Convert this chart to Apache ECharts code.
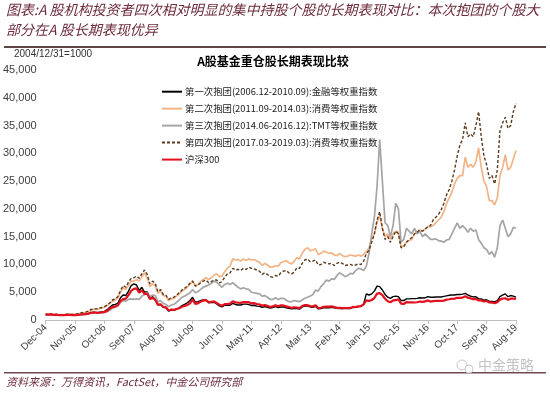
<!DOCTYPE html>
<html>
<head>
<meta charset="utf-8">
<script src="https://cdn.jsdelivr.net/npm/echarts@6/dist/echarts.min.js"></script>
<style>
html,body{margin:0;padding:0;background:#fff;}
#c{width:550px;height:395px;}
</style>
</head>
<body>
<div id="c"></div>
<script>
// ---- Data (monthly, Dec-04 .. Aug-19), index 2004/12/31 = 1000 ----
const monNames = ['Jan','Feb','Mar','Apr','May','Jun','Jul','Aug','Sep','Oct','Nov','Dec'];
const categories = [];
for (let i = 0; i < 177; i++) {
  const t = 2004 * 12 + 11 + i;
  const y = Math.floor(t / 12), mo = t % 12;
  categories.push(monNames[mo] + '-' + String(y % 100).padStart(2, '0'));
}

const seriesNames = [
  '第一次抱团(2006.12-2010.09):金融等权重指数',
  '第二次抱团(2011.09-2014.03):消费等权重指数',
  '第三次抱团(2014.06-2016.12):TMT等权重指数',
  '第四次抱团(2017.03-2019.03):消费等权重指数',
  '沪深300'
];

const finance1 = [1000,
  970,990,910,950,860,880,880,930,920,880,890,930,
  1000,1040,1060,1180,1380,1420,1370,1380,1480,1560,1850,2300,
  2700,2800,3000,4000,4500,4400,5200,6200,6500,6300,5300,5900,
  5000,5100,3900,4200,3700,2700,2800,2300,2200,1600,1800,1750,
  2000,2200,2600,2800,3100,3500,4100,3200,3300,3500,3600,3550,
  3100,3150,3200,2900,2550,2350,2650,2650,2650,3000,2800,2700,
  2700,2850,2850,2800,2600,2650,2500,2450,2300,2400,2300,2150,
  2250,2400,2250,2350,2350,2200,2100,2000,2050,2050,1950,2350,
  2550,2500,2350,2300,2450,2000,2050,2200,2250,2200,2300,2200,
  2100,2050,2050,2050,2050,2050,2300,2300,2400,2450,2900,4700,
  4500,4700,5200,6100,6000,5400,4600,4100,3900,4200,4300,4200,
  3500,3500,3800,3800,3850,3850,3900,4000,3950,4000,4200,4100,
  4100,4150,4150,4150,4250,4350,4450,4500,4500,4600,4600,4650,
  4800,4500,4300,4150,4200,3800,3800,3550,3650,3350,3350,3250,
  3500,4200,4500,4700,4200,4400,4300,4100];

const consumer2 = [1000,
  1000,1030,950,1000,920,950,960,1020,1030,1000,1030,1100,
  1200,1300,1350,1500,1800,1900,1900,2000,2150,2300,2600,3000,
  3400,3600,4000,5000,5800,5500,6300,7000,7000,7300,7000,7800,
  8500,7600,6000,6500,6200,4800,5200,4400,4300,3500,3800,3900,
  4300,4700,5200,5500,5900,6400,7000,6200,6400,6900,7300,7600,
  7300,7600,8100,8300,7800,7900,8700,9300,9700,11000,10800,10900,
  10600,11000,10700,11000,10800,10900,10600,10400,9800,10200,9900,9500,
  9500,9800,9700,10300,10500,10700,10300,10100,10600,11200,11000,12000,
  12700,13000,12500,12600,12800,11800,12000,12400,12200,12000,12100,11700,
  11600,12000,11600,11400,11500,11700,11600,11500,11700,11500,11800,12300,
  13000,14500,15500,17500,18800,16500,15000,15500,14500,15500,16000,15800,
  13200,13300,14000,14300,14500,15500,15800,16200,16000,16400,16800,16800,
  17000,17500,18000,18500,19500,21000,22000,23000,24500,25500,26000,26000,
  29300,27500,28000,27500,28500,31000,27500,25000,24000,21500,21500,20700,
  22000,26000,27500,29700,27000,27500,29000,30500];

const tmt3 = [1000,
  980,1000,920,950,860,870,860,900,900,860,880,910,
  980,1010,1030,1130,1280,1310,1270,1280,1330,1360,1500,1750,
  2100,2300,2600,3200,3500,3400,3700,3800,3700,3800,3700,4300,
  4600,5000,4200,4500,4400,3300,3500,3000,2800,2400,2700,2800,
  3200,3600,4100,4300,4600,4900,5500,4900,5100,5500,5900,6100,
  6300,6600,7000,6800,6300,5900,6400,6600,6400,6700,6300,5900,
  5600,5800,5600,5500,5000,4900,4800,4700,4300,4400,4100,3700,
  3700,4000,3700,3900,3900,3600,3300,3300,3500,3400,3300,3600,
  3900,4100,4300,4600,5400,5200,6000,6500,7200,7000,7400,7300,
  8000,8500,8200,7800,8000,8400,8300,8900,9300,9200,8900,9700,
  12000,15500,18500,24000,32500,25000,17500,17000,15000,17000,21000,20000,
  14000,14500,16500,16000,15500,16500,15500,16000,15000,15500,15000,14500,
  14500,14600,14300,14200,14000,14400,14500,15500,16500,17500,16500,17000,
  16500,15800,16500,16000,16200,14500,13800,13000,12700,11800,12300,11300,
  13000,17000,18000,16500,15000,15500,16700,16500];

const consumer4 = [1000,
  1000,1030,960,1010,930,960,970,1030,1050,1020,1050,1120,
  1250,1350,1420,1600,1900,2000,2000,2100,2250,2400,2700,3100,
  3600,3800,4200,5300,6200,5900,6800,7500,7600,7900,7500,8300,
  9000,8200,6500,7000,6600,5100,5500,4600,4500,3700,4000,4100,
  4500,4900,5400,5700,6100,6600,7000,6100,6300,6700,7000,7200,
  6700,6900,7200,7200,6700,6900,7700,8300,8500,9300,9000,9100,
  8900,9300,9100,9500,9300,9200,9000,8800,8200,8500,8200,7800,
  7700,8000,7900,8500,8800,8900,8500,8300,8600,9400,9300,10200,
  10800,11000,10500,10600,10800,9900,10000,10400,10200,10100,10200,9800,
  10200,10400,10200,9800,9900,10000,9800,9900,10100,10000,10600,12000,
  12500,14000,15500,18000,19500,16500,14500,15000,14000,15000,16000,15500,
  13000,13200,14000,14500,14800,15500,15800,16200,16000,16300,16800,17000,
  18000,18500,19000,19800,21000,22500,23500,25000,27000,29500,31500,32500,
  35500,33000,33500,33000,35000,37500,33000,29500,28000,25500,26000,24500,
  27000,34000,35500,36500,34500,35000,37500,39000];

const hs300 = [1000,
  980,1010,920,960,860,880,870,920,910,870,880,923,
  990,1020,1040,1140,1300,1340,1300,1300,1380,1420,1660,2041,
  2330,2420,2600,3450,3770,3850,4470,5250,5600,5690,4900,5338,
  4700,4750,3790,3980,3600,2760,2830,2390,2290,1720,1880,1817,
  1970,2120,2380,2510,2700,3000,3660,2890,3000,3300,3500,3575,
  3200,3280,3350,3070,2760,2560,2870,2900,2940,3380,3180,3128,
  3080,3240,3220,3210,3010,3040,2880,2800,2590,2700,2560,2345,
  2460,2630,2460,2630,2620,2460,2330,2200,2290,2250,2140,2522,
  2700,2670,2500,2450,2640,2150,2200,2370,2410,2400,2450,2330,
  2200,2180,2150,2160,2160,2165,2350,2330,2450,2510,2810,3533,
  3430,3600,3950,4750,4850,4470,3820,3370,3200,3530,3560,3730,
  2950,2880,3220,3160,3170,3150,3200,3330,3250,3340,3530,3310,
  3390,3450,3460,3440,3490,3670,3740,3820,3840,4000,4000,4030,
  4280,4020,3900,3760,3800,3510,3520,3330,3440,3150,3140,3010,
  3200,3670,3870,3910,3630,3830,3840,3800];

const yTicks = { min: 0, max: 45000, interval: 5000 };

// ---- Chart ----
const chart = echarts.init(document.getElementById('c'), null, { renderer: 'canvas' });
const maroon = '#6e2b3b';
const cjk = '"Noto Sans CJK SC", "Liberation Sans", sans-serif';
const latin = '"Liberation Sans", Arial, sans-serif';

const styles = [
  { color: '#000000', width: 1.4, type: 'solid' },
  { color: '#F2B486', width: 1.7, type: 'solid' },
  { color: '#A5A5A5', width: 1.7, type: 'solid' },
  { color: '#5A3A1C', width: 1.4, type: [3, 2] },
  { color: '#E3101E', width: 2.2, type: 'solid' }
];
const dataArr = [finance1, consumer2, tmt3, consumer4, hs300];

chart.setOption({
  animation: false,
  backgroundColor: '#ffffff',
  textStyle: { fontFamily: latin },
  title: {
    text: 'A股基金重仓股长期表现比较',
    left: 268, top: 50, textAlign: 'center',
    textStyle: { fontSize: 12, fontWeight: 'bold', color: '#000', fontFamily: cjk }
  },
  legend: {
    orient: 'vertical',
    left: 156, top: 82,
    itemWidth: 20, itemHeight: 10, itemGap: 7.6,
    itemStyle: { opacity: 0 },
    textStyle: { fontSize: 9.4, color: '#222', fontFamily: cjk, padding: [0, 0, 0, -2] },
    data: seriesNames
  },
  grid: { left: 45, right: 34, top: 70, bottom: 75, containLabel: false },
  xAxis: {
    type: 'category',
    data: categories,
    boundaryGap: false,
    axisLine: { lineStyle: { color: '#BFBFBF', width: 1 } },
    axisTick: { interval: 10, length: 4, lineStyle: { color: '#BFBFBF' } },
    axisLabel: { interval: 10, rotate: 45, fontSize: 10, color: '#404040', margin: 6, fontFamily: latin },
    splitLine: { show: false }
  },
  yAxis: {
    type: 'value',
    min: yTicks.min, max: yTicks.max, interval: yTicks.interval,
    axisLine: { show: false },
    axisTick: { show: false },
    splitLine: { show: false },
    axisLabel: {
      fontSize: 11, color: '#404040', margin: 9, fontFamily: latin,
      formatter: v => v.toLocaleString('en-US')
    }
  },
  series: seriesNames.map((n, i) => ({
    name: n,
    type: 'line',
    data: dataArr[i],
    showSymbol: false,
    symbol: 'none',
    z: 2 + i,
    lineStyle: { color: styles[i].color, width: styles[i].width, type: styles[i].type },
    itemStyle: { color: styles[i].color }
  })),
  graphic: [
    { type: 'text', left: 6, top: 3, style: { text: '图表:A 股机构投资者四次相对明显的集中持股个股的长期表现对比：本次抱团的个股大', fontSize: 14, fontStyle: 'italic', fill: maroon, fontFamily: cjk } },
    { type: 'text', left: 6, top: 23, style: { text: '部分在A 股长期表现优异', fontSize: 14, fontStyle: 'italic', fill: maroon, fontFamily: cjk } },
    { type: 'rect', shape: { x: 4, y: 46, width: 542, height: 2 }, style: { fill: '#5f4548' } },
    { type: 'text', left: 14, top: 49, style: { text: '2004/12/31=1000', fontSize: 10, fill: '#333', fontFamily: latin } },
    { type: 'rect', shape: { x: 4, y: 372, width: 542, height: 1.5 }, style: { fill: '#6e4a50' } },
    { type: 'text', left: 6, top: 376, style: { text: '资料来源：万得资讯，FactSet，中金公司研究部', fontSize: 11, fontStyle: 'italic', fill: maroon, fontFamily: cjk } },
    { type: 'circle', shape: { cx: 462, cy: 365, r: 5 }, style: { fill: 'none', stroke: '#c8c8c8', lineWidth: 1 } },
    { type: 'circle', shape: { cx: 469, cy: 369, r: 4 }, style: { fill: '#fff', stroke: '#c8c8c8', lineWidth: 1 } },
    { type: 'text', left: 478, top: 358, style: { text: '中金策略', fontSize: 14, fill: '#c4c4c4', fontFamily: cjk } }
  ]
});
</script>
</body>
</html>
